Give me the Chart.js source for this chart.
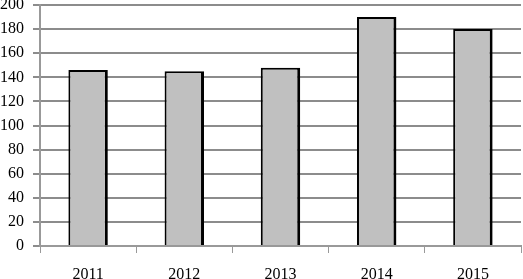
<!DOCTYPE html>
<html><head><meta charset="utf-8">
<script src="https://cdn.jsdelivr.net/npm/chart.js@4"></script>
<style>html,body{margin:0;padding:0;background:#fff}#w{width:523px;height:279px}</style>
</head><body><div id="w"><canvas id="c"></canvas></div>
<script>
const categories = ["2011","2012","2013","2014","2015"];
const values = [146, 145, 148, 190, 180];
const yTicks = [0,20,40,60,80,100,120,140,160,180,200];

new Chart(document.getElementById('c'), {
  type: 'bar',
  data: { labels: categories, datasets: [{ data: values, backgroundColor: '#c0c0c0', borderColor: '#000', borderWidth: { left: 2, right: 3, top: 2, bottom: 0 }, borderSkipped: 'bottom', barPercentage: 0.41, categoryPercentage: 1.0 }] },
  options: {
    responsive: true, maintainAspectRatio: false, animation: false,
    layout: { padding: { top: 5, right: 2, left: 0, bottom: 0 } },
    plugins: { legend: { display: false }, tooltip: { enabled: false } },
    scales: {
      x: {
        grid: { drawOnChartArea: false, color: '#999', lineWidth: 1, tickLength: 7, offset: true },
        border: { color: '#999', width: 2 },
        ticks: { color: '#000', font: { family: 'Liberation Serif', size: 16 }, padding: 12 },
        afterFit: s => { s.height = 33; }
      },
      y: {
        min: 0, max: 200,
        afterBuildTicks: s => { s.ticks = yTicks.map(v => ({ value: v })); },
        grid: { color: '#8c8c8c', lineWidth: 2, tickLength: 7 },
        border: { color: '#999', width: 2 },
        ticks: { color: '#000', font: { family: 'Liberation Serif', size: 16 }, padding: 9 },
        afterFit: s => { s.width = 40; s.paddingTop = 0; s.paddingBottom = 0; }
      }
    }
  }
});
</script></body></html>
